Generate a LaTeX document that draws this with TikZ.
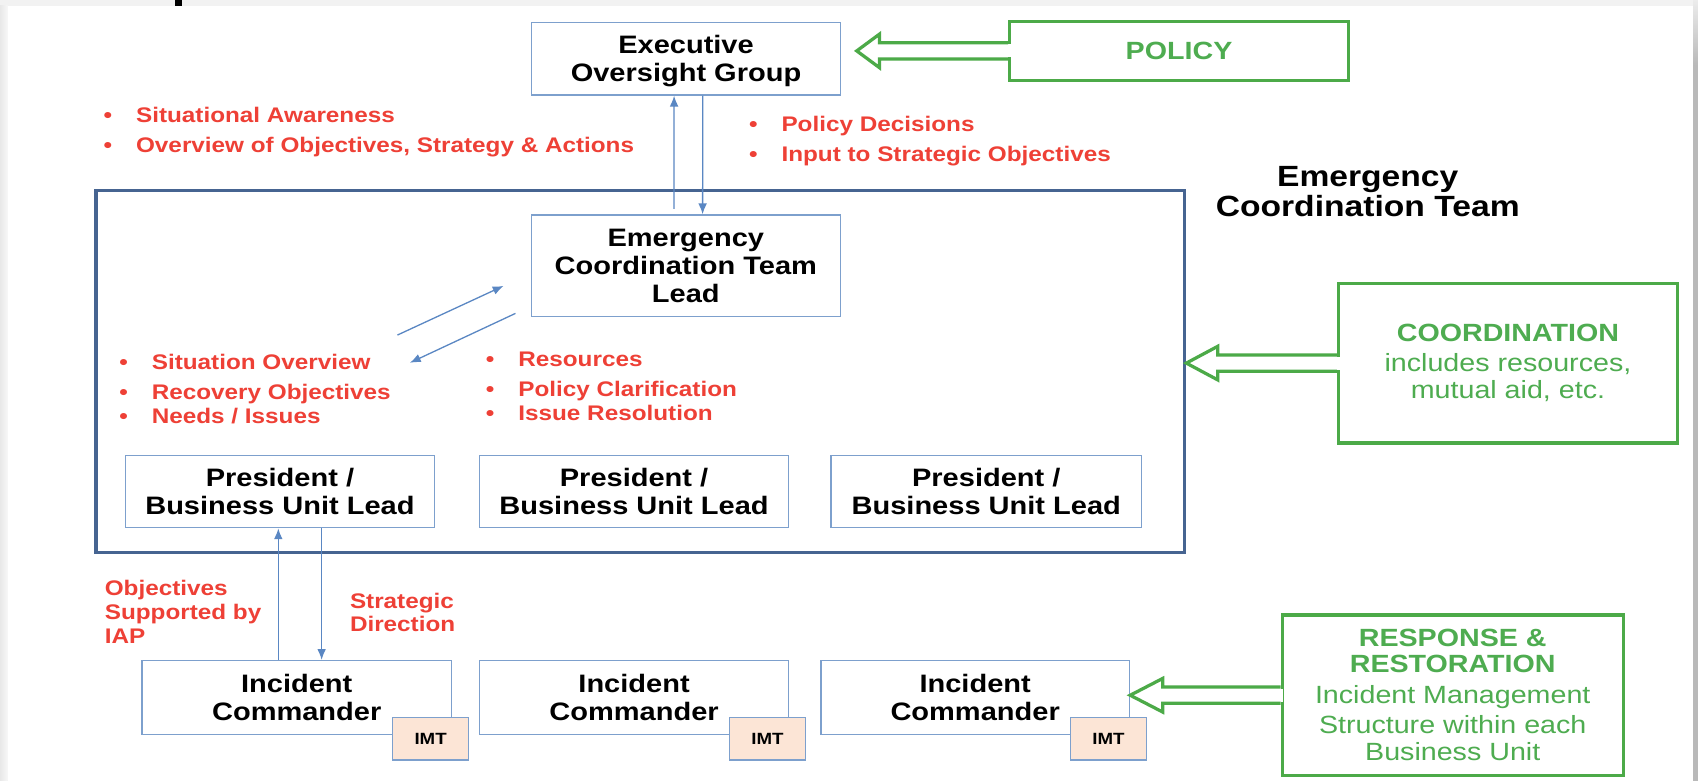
\documentclass[tikz,border=0pt]{standalone}
\usepackage{fontspec}
\setmainfont{Liberation Sans}[FakeStretch=1.15]
\usetikzlibrary{arrows.meta,calc}
\definecolor{myred}{RGB}{238,64,54}
\definecolor{greenline}{RGB}{76,170,72}
\definecolor{greentxt}{RGB}{78,172,80}
\definecolor{boxblue}{RGB}{125,160,205}
\definecolor{arrowblue}{RGB}{90,135,195}
\definecolor{bigblue}{RGB}{70,100,145}
\definecolor{imtfill}{RGB}{252,229,214}
\newcommand\bitem[1]{\makebox[30pt][l]{\textbullet}#1}
\newcommand\blockarrow[3]{%
  \fill[white] let \p1=(#1) in (\x1-2.5pt,\y1+6pt) rectangle (\x1+2.5pt,\y1-6pt);
  \draw[garrow] let \p1=(#1),\p2=(#2) in
    (\x1,\y1+7.5pt) -- (\x2+#3pt,\y1+7.5pt) -- (\x2+#3pt,\y1+15.5pt) -- (\x2,\y1)
    -- (\x2+#3pt,\y1-15.5pt) -- (\x2+#3pt,\y1-7.5pt) -- (\x1,\y1-7.5pt);
}
\begin{document}
\begin{tikzpicture}[x=1pt,y=-1pt,
  bbox/.style={draw=boxblue, line width=1.3pt, fill=white, align=center, inner sep=0pt,
    font=\fontsize{23.3}{26}\selectfont\bfseries},
  gbox/.style={draw=greenline, line width=3pt, fill=white, align=center, inner sep=0pt,
    text=greentxt, font=\fontsize{23}{26}\selectfont},
  bigbox/.style={draw=bigblue, line width=3pt},
  imtbox/.style={draw=boxblue, fill=imtfill, line width=1.3pt, minimum width=70pt,
    minimum height=39pt, inner sep=0pt, font=\fontsize{15}{18}\selectfont\bfseries},
  redlist/.style={text=myred, align=left, inner sep=0pt, anchor=west,
    font=\fontsize{19.5}{22}\selectfont\bfseries},
  garrow/.style={draw=greenline, line width=3pt, line join=miter},
  arr/.style={draw=arrowblue, line width=1.2pt, -{Latex[length=10pt,width=8pt]}}
]
\useasboundingbox (0,0) rectangle (1568,721);
% page background
\fill[gray!10] (0,0) rectangle (1568,721);
\shade[left color=gray!18, right color=gray!6] (0,5.5) rectangle (7,721);
\fill[white] (7,5.5) rectangle (1563.5,721);
\shade[top color=gray!15, bottom color=gray!55] (1563.5,0) rectangle (1568,60);
\fill[gray!55] (1563.5,60) rectangle (1568,721);
\fill[black] (162,0) rectangle (168,5.5);

% main boxes
\node[bbox, minimum width=285pt, minimum height=67pt] (exec) at (633.5,54.2) {\\[-5pt]Executive\\Oversight Group};
\node[gbox, minimum width=312.5pt, minimum height=54pt] (policy) at (1088.75,47) {\bfseries POLICY};
\node[bigbox, minimum width=1005.4pt, minimum height=334pt] (ect) at (591.3,343) {};
\node[align=center, inner sep=0pt, font=\fontsize{27}{28}\selectfont\bfseries] (ectlabel) at (1263,177) {Emergency\\Coordination Team};
\node[bbox, minimum width=285.4pt, minimum height=94pt] (lead) at (633.3,245.5) {Emergency\\Coordination Team\\Lead};
\node[gbox, minimum width=313pt, minimum height=147.4pt] (coord) at (1392.5,335.3)
  {{\bfseries COORDINATION}\\[1.8pt]includes resources,\\[-1.5pt]mutual aid, etc.};

\node[bbox, minimum width=285pt, minimum height=66.5pt] (p1) at (258.5,454) {President /\\Business Unit Lead};
\node[bbox, minimum width=285pt, minimum height=66.5pt] (p2) at (585.5,454) {President /\\Business Unit Lead};
\node[bbox, minimum width=286.5pt, minimum height=66.5pt] (p3) at (910.75,454) {President /\\Business Unit Lead};

\node[bbox, minimum width=286pt, minimum height=68pt] (ic1) at (274,644) {Incident\\Commander};
\node[bbox, minimum width=285pt, minimum height=68pt] (ic2) at (585.5,644) {Incident\\Commander};
\node[bbox, minimum width=285pt, minimum height=68pt] (ic3) at (900.5,644) {Incident\\Commander};
\node[imtbox] (imt1) at ($(ic1.south east)+(-20,3.5)$) {IMT};
\node[imtbox] (imt2) at ($(ic2.south east)+(-20,3.5)$) {IMT};
\node[imtbox] (imt3) at ($(ic3.south east)+(-20,3.5)$) {IMT};

\node[gbox, minimum width=315pt, minimum height=148pt] (resp) at (1341.5,642)
  {{\bfseries RESPONSE \&}\\[-2.5pt]{\bfseries RESTORATION}\\[2.8pt]Incident Management\\[2.2pt]Structure within each\\[-1.2pt]Business Unit};

% red labels
\node[redlist] (lA) at (95.5,122) {\bitem{Situational Awareness}\\[6pt]\bitem{Overview of Objectives, Strategy \& Actions}};
\node[redlist] (lB) at (691.5,130) {\bitem{Policy Decisions}\\[6pt]\bitem{Input to Strategic Objectives}};
\node[redlist] (lC) at (110,359) {\bitem{Situation Overview}\\[5.6pt]\bitem{Recovery Objectives}\\\bitem{Needs / Issues}};
\node[redlist] (lD) at (448.5,357) {\bitem{Resources}\\[5.7pt]\bitem{Policy Clarification}\\\bitem{Issue Resolution}};
\node[redlist] (lE) at (96.6,565) {Objectives\\Supported by\\IAP};
\node[redlist] (lF) at (323,565.5) {Strategic\\Direction};

% blue arrows
\draw[arr] ($(lead.north)+(-11,-5)$) -- ($(exec.south)+(-11,0)$);
\draw[arr] ($(exec.south)+(15.5,0)$) -- ($(lead.north)+(15.5,0)$);
\coordinate (d1s) at (367,309.4);
\coordinate (d1e) at (465,264);
\coordinate (d2s) at (476,289.4);
\coordinate (d2e) at (378.5,335);
\draw[arr] (d1s) -- (d1e);
\draw[arr] (d2s) -- (d2e);
\draw[arr] ($(ic1.north)+(-17,0)$) -- ($(p1.south)+(-1.5,0)$);
\draw[arr] ($(p1.south)+(38.5,0)$) -- ($(ic1.north)+(23,0)$);

% green block arrows
\coordinate (tipA) at ($(exec.east)+(14.5,0)$);
\blockarrow{policy.west}{tipA}{21}
\blockarrow{coord.west}{ect.east}{29}
\blockarrow{resp.west}{ic3.east}{30}
\end{tikzpicture}
\end{document}
